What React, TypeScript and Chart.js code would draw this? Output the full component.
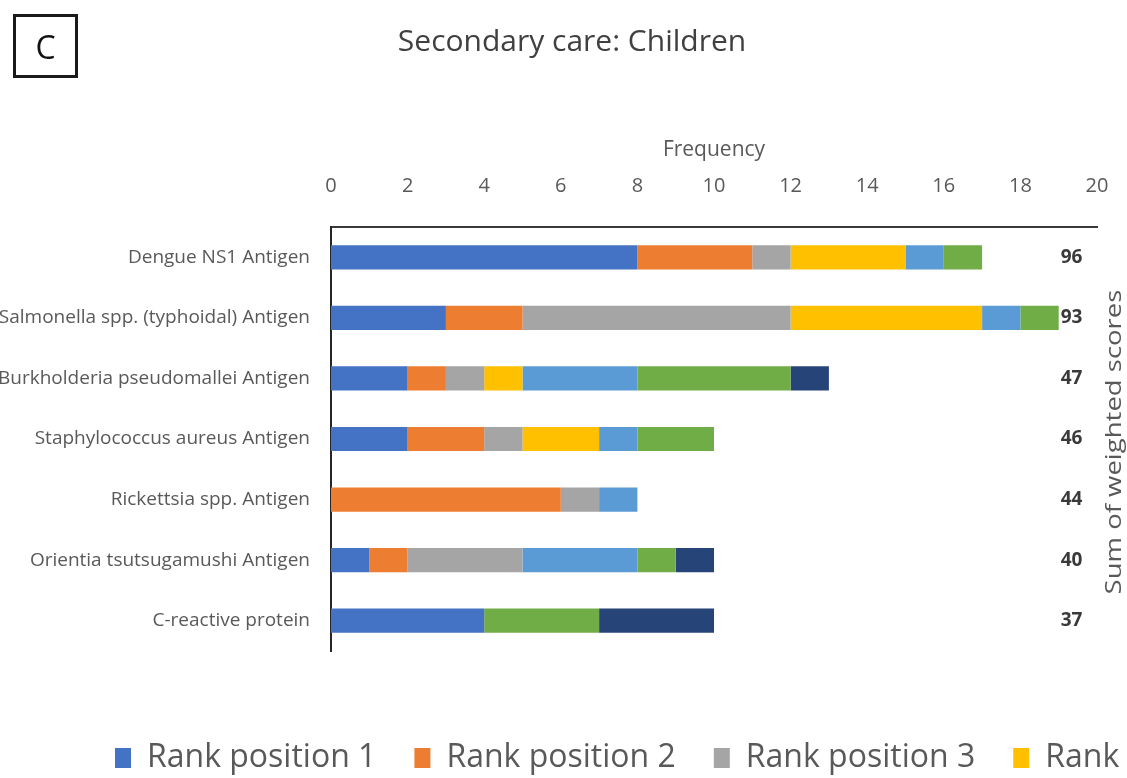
import React, { useEffect, useRef } from "react";
import { Chart, registerables } from "chart.js";

Chart.register(...registerables);

const categories = [
  "Dengue NS1 Antigen",
  "Salmonella spp. (typhoidal) Antigen",
  "Burkholderia pseudomallei Antigen",
  "Staphylococcus aureus Antigen",
  "Rickettsia spp. Antigen",
  "Orientia tsutsugamushi Antigen",
  "C-reactive protein",
];

const rank1 = [8, 3, 2, 2, 0, 1, 4];
const rank2 = [3, 2, 1, 2, 6, 1, 0];
const rank3 = [1, 7, 1, 1, 1, 3, 0];
const rank4 = [3, 5, 1, 2, 0, 0, 0];
const rank5 = [1, 1, 3, 1, 1, 3, 0];
const rank6 = [1, 1, 4, 2, 0, 1, 3];
const rank7 = [0, 0, 1, 0, 0, 1, 3];

const weightedScores = [96, 93, 47, 46, 44, 40, 37];

const seriesLabels = [
  "Rank position 1",
  "Rank position 2",
  "Rank position 3",
  "Rank position 4",
  "Rank position 5",
  "Rank position 6",
  "Rank position 7",
];
const seriesColors = ["#4472C4", "#ED7D31", "#A5A5A5", "#FFC000", "#5B9BD5", "#70AD47", "#264478"];

const xMin = 0;
const xMax = 20;
const xStep = 2;

const chartTitle = "Secondary care: Children";
const panelLetter = "C";
const xAxisTitle = "Frequency";
const rightTitle = "Sum of weighted scores";

const SANS = "'Open Sans', 'Liberation Sans', sans-serif";

const CANVAS_W = 2600;
const CANVAS_H = 778;

const annotationsPlugin = {
  id: "annotations",
  afterDraw(chart: any) {
    const { ctx, scales } = chart;
    const xs = scales.x;
    const ys = scales.y;
    ctx.save();
    // panel letter box
    ctx.strokeStyle = "#1a1a1a";
    ctx.lineWidth = 3;
    ctx.strokeRect(14.5, 15.5, 62, 61);
    ctx.fillStyle = "#111111";
    ctx.font = `32px ${SANS}`;
    ctx.textAlign = "center";
    ctx.textBaseline = "middle";
    ctx.fillText(panelLetter, 45.5, 50);
    // chart title
    ctx.fillStyle = "#404040";
    ctx.font = `30px ${SANS}`;
    ctx.fillText(chartTitle, 572, 42);
    // weighted scores
    ctx.font = `bold 19px ${SANS}`;
    ctx.textAlign = "left";
    ctx.fillStyle = "#3a3a3a";
    weightedScores.forEach((s, i) => {
      ctx.fillText(String(s), xs.getPixelForValue(19) + 2, ys.getPixelForValue(i));
    });
    // right title
    ctx.translate(1115, 442);
    ctx.rotate(-Math.PI / 2);
    ctx.scale(1.25, 1);
    ctx.textAlign = "center";
    ctx.fillStyle = "#595959";
    ctx.font = `22px ${SANS}`;
    ctx.fillText(rightTitle, 0, 0);
    ctx.restore();
  },
};

export default function App() {
  const ref = useRef<HTMLCanvasElement | null>(null);

  useEffect(() => {
    document.body.style.margin = "0";
    document.body.style.overflow = "hidden";
    const canvas = ref.current;
    if (!canvas) return;
    const data = [rank1, rank2, rank3, rank4, rank5, rank6, rank7];
    const chart = new Chart(canvas, {
      type: "bar",
      data: {
        labels: categories,
        datasets: data.map((d, i) => ({
          label: seriesLabels[i],
          data: d,
          backgroundColor: seriesColors[i],
          borderWidth: 0,
          barPercentage: 0.8,
          categoryPercentage: 0.5,
        })),
      },
      plugins: [annotationsPlugin],
      options: {
        indexAxis: "y",
        responsive: false,
        animation: false,
        devicePixelRatio: 1,
        layout: { padding: { left: 77, right: 0, top: 0, bottom: -6 } },
        plugins: {
          title: { display: false },
          tooltip: { enabled: false },
          legend: {
            display: true,
            position: "bottom",
            align: "start",
            title: { display: true, text: "", font: { size: 12 }, padding: { top: 38.6, bottom: 0 } },
            labels: {
              boxWidth: 16,
              boxHeight: 20,
              padding: 38,
              color: "#595959",
              font: { size: 32, family: SANS },
            },
          },
        },
        scales: {
          x: {
            type: "linear",
            position: "top",
            stacked: true,
            min: xMin,
            max: xMax,
            ticks: { stepSize: xStep, color: "#595959", font: { size: 20, family: SANS }, padding: 29 },
            grid: { display: false, drawTicks: false },
            border: { display: true, color: "#3a3a3a", width: 2 },
            title: {
              display: true,
              text: xAxisTitle,
              color: "#595959",
              font: { size: 21, family: SANS },
              padding: { top: 137.4, bottom: 0 },
            },
            afterFit: (s: any) => {
              s.height = 227;
            },
          },
          y: {
            type: "category",
            position: "left",
            stacked: true,
            ticks: { color: "#595959", font: { size: 19, family: SANS }, padding: 21 },
            grid: { display: false, drawTicks: false },
            border: { display: true, color: "#262626", width: 2 },
            afterFit: (s: any) => {
              s.width = 254;
              s._computeLabelArea = () => undefined;
            },
          },
          yRight: {
            type: "linear",
            position: "right",
            display: true,
            ticks: { display: false },
            grid: { display: false, drawTicks: false },
            border: { display: false },
            afterFit: (s: any) => {
              s.width = CANVAS_W - 1097;
            },
          },
        },
      },
    });
    return () => chart.destroy();
  }, []);

  return (
    <div style={{ position: "fixed", left: 0, top: 0, width: 1127, height: 778, overflow: "hidden", background: "#fff" }}>
      <canvas ref={ref} width={CANVAS_W} height={CANVAS_H} style={{ width: CANVAS_W, height: CANVAS_H, display: "block" }} />
    </div>
  );
}
